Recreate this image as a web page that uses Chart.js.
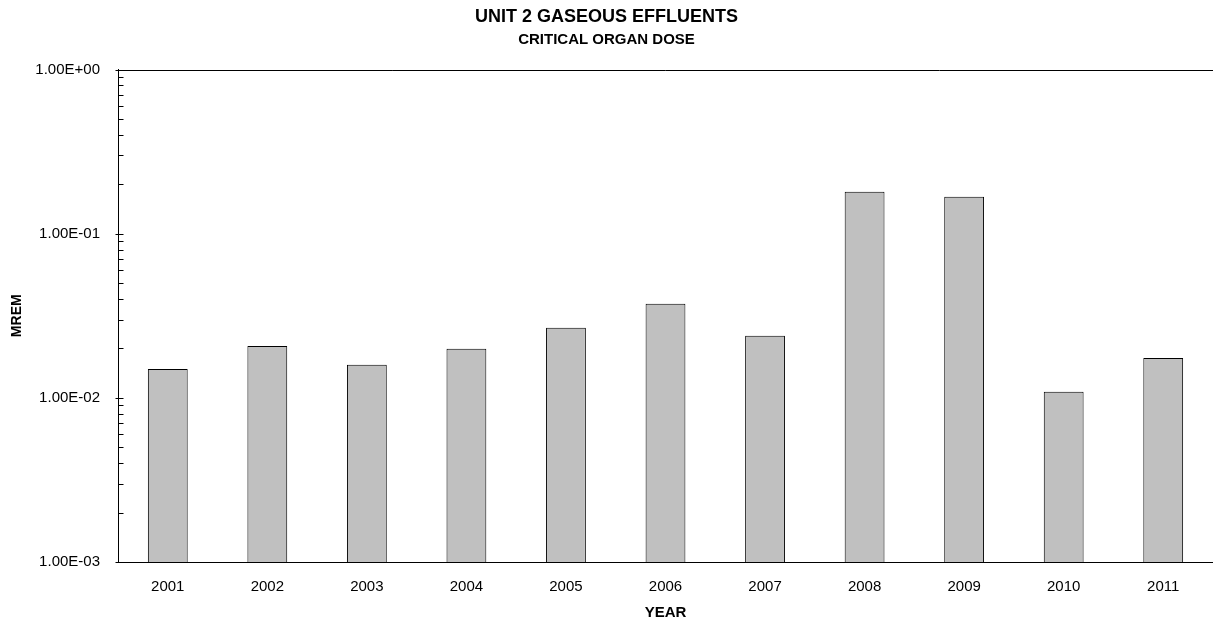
<!DOCTYPE html>
<html>
<head>
<meta charset="utf-8">
<script src="https://cdn.jsdelivr.net/npm/chart.js@4/dist/chart.umd.min.js"></script>
<style>
  html, body { margin: 0; padding: 0; background: #fff; }
  #wrap { width: 1213px; height: 621px; }
</style>
</head>
<body>
<div id="wrap"><canvas id="doseChart"></canvas></div>
<script>
// Unit 2 gaseous effluents - critical organ dose (mrem), log axis
const years = ['2001', '2002', '2003', '2004', '2005', '2006', '2007', '2008', '2009', '2010', '2011'];
const doseMrem = [0.0150, 0.0207, 0.0159, 0.0199, 0.0267, 0.0374, 0.0239, 0.180, 0.168, 0.0109, 0.0175];
const majorTicks = [0.001, 0.01, 0.1, 1];

const FONT = '"Liberation Sans", Arial, sans-serif';

// 1.00E-02 style labels
function sciLabel(v) {
    const exp = Math.round(Math.log10(v));
    const mant = v / Math.pow(10, exp);
    const sign = exp < 0 ? '-' : '+';
    return mant.toFixed(2) + 'E' + sign + String(Math.abs(exp)).padStart(2, '0');
}

// tick marks on the value axis + frame line on top
const axisMarks = {
    id: 'axisMarks',
    afterDraw(chart) {
        const ctx = chart.ctx;
        const y = chart.scales.y;
        const area = chart.chartArea;
        const x0 = Math.round(area.left) + 0.5;
        ctx.save();
        ctx.strokeStyle = '#000';
        ctx.lineWidth = 1;
        ctx.beginPath();
        majorTicks.forEach(v => {
            const py = Math.round(y.getPixelForValue(v)) + 0.5;
            ctx.moveTo(x0 - 3, py);
            ctx.lineTo(x0 + 5, py);
            if (v < 1) {
                for (let m = 2; m <= 9; m++) {
                    const my = Math.round(y.getPixelForValue(v * m)) + 0.5;
                    ctx.moveTo(x0, my);
                    ctx.lineTo(x0 + 5, my);
                }
            }
        });
        const top = Math.round(area.top) + 0.5;
        ctx.moveTo(x0, top);
        ctx.lineTo(chart.width, top);
        ctx.stroke();
        ctx.restore();
    }
};

new Chart(document.getElementById('doseChart'), {
    type: 'bar',
    data: {
        labels: years,
        datasets: [{
            label: 'Critical organ dose',
            data: doseMrem,
            backgroundColor: '#c0c0c0',
            borderColor: '#000',
            borderWidth: 1,
            borderSkipped: 'bottom',
            barPercentage: 0.4,
            categoryPercentage: 1.0
        }]
    },
    options: {
        responsive: true,
        maintainAspectRatio: false,
        animation: false,
        layout: { padding: { left: 0, right: 0, top: 0, bottom: 0 } },
        plugins: {
            legend: { display: false },
            tooltip: { enabled: false },
            title: {
                display: true,
                text: 'UNIT 2 GASEOUS EFFLUENTS',
                color: '#000',
                font: { family: FONT, size: 18, weight: 'bold' },
                padding: { top: 6, bottom: 3.5 }
            },
            subtitle: {
                display: true,
                text: 'CRITICAL ORGAN DOSE',
                color: '#000',
                font: { family: FONT, size: 15, weight: 'bold' },
                padding: { top: 0, bottom: 20.4 }
            }
        },
        scales: {
            x: {
                grid: { display: false, drawTicks: false },
                border: { display: true, color: '#000', width: 1 },
                afterFit(scale) {
                    scale.height = 59;
                },
                ticks: {
                    color: '#000',
                    font: { family: FONT, size: 15 },
                    padding: 16,
                    maxRotation: 0
                },
                title: {
                    display: true,
                    text: 'YEAR',
                    color: '#000',
                    font: { family: FONT, size: 15, weight: 'bold' },
                    padding: { top: 0, bottom: -1 }
                }
            },
            y: {
                type: 'logarithmic',
                min: 0.001,
                max: 1,
                grid: { display: false, drawTicks: false },
                border: { display: true, color: '#000', width: 1 },
                afterBuildTicks(scale) {
                    scale.ticks = majorTicks.map(v => ({ value: v }));
                },
                afterFit(scale) {
                    scale.width = 118;
                },
                ticks: {
                    color: '#000',
                    font: { family: FONT, size: 15 },
                    padding: 18,
                    callback: v => sciLabel(v)
                },
                title: {
                    display: true,
                    text: 'MREM',
                    color: '#000',
                    font: { family: FONT, size: 14, weight: 'bold' },
                    padding: { top: 9, bottom: 0 }
                }
            }
        }
    },
    plugins: [axisMarks]
});
</script>
</body>
</html>
